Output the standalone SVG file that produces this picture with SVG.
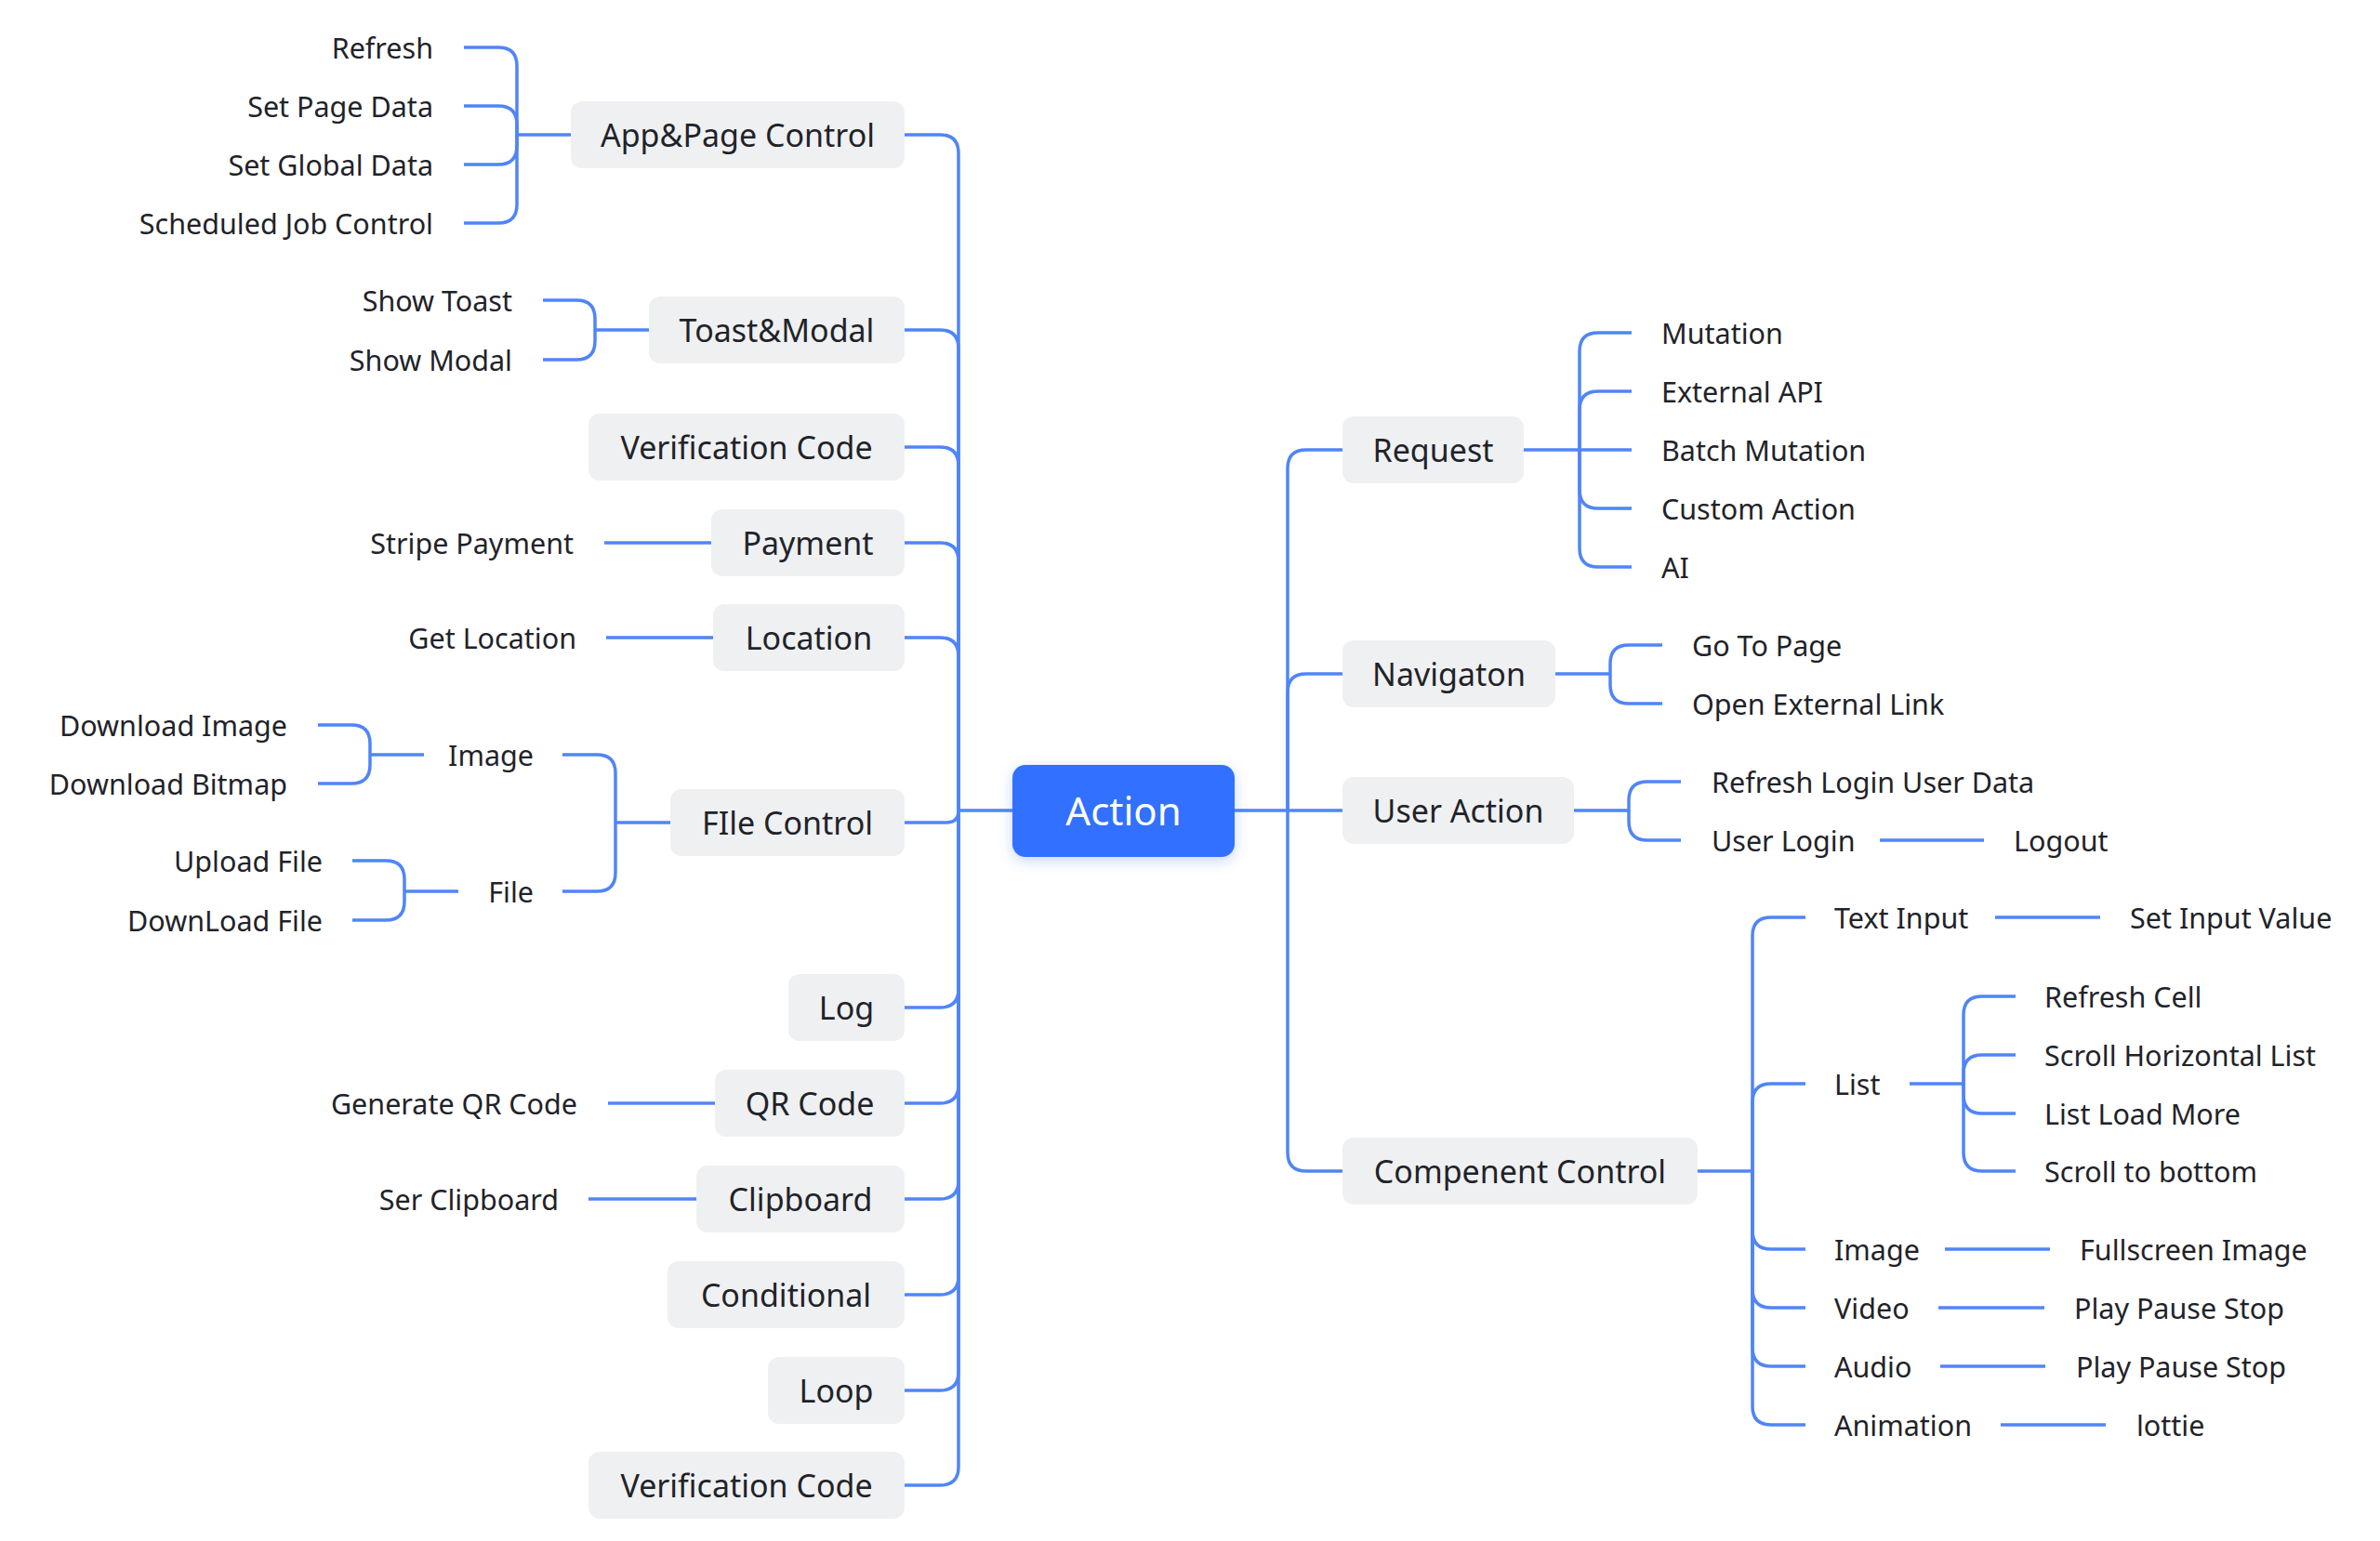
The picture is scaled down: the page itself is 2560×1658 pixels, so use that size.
<svg xmlns="http://www.w3.org/2000/svg" width="2560" height="1658" viewBox="0 0 2560 1658">
<defs>
<style>
.c{fill:none;stroke:#5085F8;stroke-width:3.5;stroke-linecap:butt}
.box{fill:#EFF0F2}
.bt{font-family:"Noto Sans","Liberation Sans",sans-serif;font-size:34px;fill:#1F2329;text-anchor:middle}
.lf{font-family:"Noto Sans","Liberation Sans",sans-serif;font-size:30.5px;fill:#1F2329}
.l{text-anchor:end}
.r{text-anchor:start}
.root{font-family:"Noto Sans","Liberation Sans",sans-serif;font-size:42px;fill:#FFFFFF;text-anchor:middle}
</style>
<filter id="sh" x="-20%" y="-30%" width="140%" height="160%">
<feDropShadow dx="0" dy="4" stdDeviation="7" flood-color="#3370FF" flood-opacity="0.28"/>
</filter>
</defs>
<rect width="2560" height="1658" fill="#FFFFFF"/>
<g id="connectors">
<path class="c" d="M1031 872 H1089"/>
<path class="c" d="M1031 872 V165 Q1031 145 1011 145 H973"/>
<path class="c" d="M1031 872 V375 Q1031 355 1011 355 H973"/>
<path class="c" d="M1031 872 V501 Q1031 481 1011 481 H973"/>
<path class="c" d="M1031 872 V604 Q1031 584 1011 584 H973"/>
<path class="c" d="M1031 872 V706 Q1031 686 1011 686 H973"/>
<path class="c" d="M1031 872 Q1031 885 1018 885 H973"/>
<path class="c" d="M1031 872 V1064 Q1031 1084 1011 1084 H973"/>
<path class="c" d="M1031 872 V1167 Q1031 1187 1011 1187 H973"/>
<path class="c" d="M1031 872 V1270 Q1031 1290 1011 1290 H973"/>
<path class="c" d="M1031 872 V1373 Q1031 1393 1011 1393 H973"/>
<path class="c" d="M1031 872 V1476 Q1031 1496 1011 1496 H973"/>
<path class="c" d="M1031 872 V1578 Q1031 1598 1011 1598 H973"/>
<path class="c" d="M1328 872 H1444"/>
<path class="c" d="M1385 872 V504 Q1385 484 1405 484 H1444"/>
<path class="c" d="M1385 872 V745 Q1385 725 1405 725 H1444"/>
<path class="c" d="M1385 872 V1240 Q1385 1260 1405 1260 H1444"/>
<path class="c" d="M556 145 H614"/>
<path class="c" d="M556 145 V71 Q556 51 536 51 H499"/>
<path class="c" d="M556 145 V134 Q556 114 536 114 H499"/>
<path class="c" d="M556 145 V157 Q556 177 536 177 H499"/>
<path class="c" d="M556 145 V220 Q556 240 536 240 H499"/>
<path class="c" d="M640 355 H698"/>
<path class="c" d="M640 355 V343 Q640 323 620 323 H584"/>
<path class="c" d="M640 355 V367 Q640 387 620 387 H584"/>
<path class="c" d="M650 584 H765"/>
<path class="c" d="M652 686 H767"/>
<path class="c" d="M662 885 H721"/>
<path class="c" d="M662 885 V832 Q662 812 642 812 H605"/>
<path class="c" d="M662 885 V939 Q662 959 642 959 H605"/>
<path class="c" d="M398 812 H456"/>
<path class="c" d="M398 812 V800 Q398 780 378 780 H342"/>
<path class="c" d="M398 812 V823 Q398 843 378 843 H342"/>
<path class="c" d="M435 959 H493"/>
<path class="c" d="M435 959 V946 Q435 926 415 926 H379"/>
<path class="c" d="M435 959 V970 Q435 990 415 990 H379"/>
<path class="c" d="M654 1187 H769"/>
<path class="c" d="M633 1290 H749"/>
<path class="c" d="M1639 484 H1755"/>
<path class="c" d="M1699 484 V378 Q1699 358 1719 358 H1755"/>
<path class="c" d="M1699 484 V441 Q1699 421 1719 421 H1755"/>
<path class="c" d="M1699 484 V527 Q1699 547 1719 547 H1755"/>
<path class="c" d="M1699 484 V590 Q1699 610 1719 610 H1755"/>
<path class="c" d="M1673 725 H1732"/>
<path class="c" d="M1732 725 V714 Q1732 694 1752 694 H1788"/>
<path class="c" d="M1732 725 V737 Q1732 757 1752 757 H1788"/>
<path class="c" d="M1693 872 H1752"/>
<path class="c" d="M1752 872 V861 Q1752 841 1772 841 H1808"/>
<path class="c" d="M1752 872 V884 Q1752 904 1772 904 H1808"/>
<path class="c" d="M2022 904 H2134"/>
<path class="c" d="M1826 1260 H1885"/>
<path class="c" d="M1885 1260 V1007 Q1885 987 1905 987 H1942"/>
<path class="c" d="M1885 1260 V1186 Q1885 1166 1905 1166 H1942"/>
<path class="c" d="M1885 1260 V1324 Q1885 1344 1905 1344 H1942"/>
<path class="c" d="M1885 1260 V1387 Q1885 1407 1905 1407 H1942"/>
<path class="c" d="M1885 1260 V1450 Q1885 1470 1905 1470 H1942"/>
<path class="c" d="M1885 1260 V1513 Q1885 1533 1905 1533 H1942"/>
<path class="c" d="M2146 987 H2259"/>
<path class="c" d="M2092 1344 H2205"/>
<path class="c" d="M2085 1407 H2199"/>
<path class="c" d="M2087 1470 H2200"/>
<path class="c" d="M2152 1533 H2265"/>
<path class="c" d="M2054 1166 H2112"/>
<path class="c" d="M2112 1166 V1092 Q2112 1072 2132 1072 H2168"/>
<path class="c" d="M2112 1166 V1155 Q2112 1135 2132 1135 H2168"/>
<path class="c" d="M2112 1166 V1178 Q2112 1198 2132 1198 H2168"/>
<path class="c" d="M2112 1166 V1240 Q2112 1260 2132 1260 H2168"/>
</g>

<g id="action"><rect x="1089" y="823" width="239" height="99" rx="14" fill="#3370FF" filter="url(#sh)"/><text class="root" x="1208.5" y="888">Action</text></g>

<g id="app-page-control"><rect class="box" x="614" y="109" width="359" height="72" rx="12"/><text class="bt" x="793.5" y="158">App&amp;Page Control</text></g>
<g id="toast-modal"><rect class="box" x="698" y="319" width="275" height="72" rx="12"/><text class="bt" x="835.5" y="368">Toast&amp;Modal</text></g>
<g id="verification-code-1"><rect class="box" x="633" y="445" width="340" height="72" rx="12"/><text class="bt" x="803" y="494">Verification Code</text></g>
<g id="payment"><rect class="box" x="765" y="548" width="208" height="72" rx="12"/><text class="bt" x="869" y="597">Payment</text></g>
<g id="location"><rect class="box" x="767" y="650" width="206" height="72" rx="12"/><text class="bt" x="870" y="699">Location</text></g>
<g id="file-control"><rect class="box" x="721" y="849" width="252" height="72" rx="12"/><text class="bt" x="847" y="898">FIle Control</text></g>
<g id="log"><rect class="box" x="848" y="1048" width="125" height="72" rx="12"/><text class="bt" x="910.5" y="1097">Log</text></g>
<g id="qr-code"><rect class="box" x="769" y="1151" width="204" height="72" rx="12"/><text class="bt" x="871" y="1200">QR Code</text></g>
<g id="clipboard"><rect class="box" x="749" y="1254" width="224" height="72" rx="12"/><text class="bt" x="861" y="1303">Clipboard</text></g>
<g id="conditional"><rect class="box" x="718" y="1357" width="255" height="72" rx="12"/><text class="bt" x="845.5" y="1406">Conditional</text></g>
<g id="loop"><rect class="box" x="826" y="1460" width="147" height="72" rx="12"/><text class="bt" x="899.5" y="1509">Loop</text></g>
<g id="verification-code-2"><rect class="box" x="633" y="1562" width="340" height="72" rx="12"/><text class="bt" x="803" y="1611">Verification Code</text></g>

<g id="request"><rect class="box" x="1444" y="448" width="195" height="72" rx="12"/><text class="bt" x="1541.5" y="497">Request</text></g>
<g id="navigaton"><rect class="box" x="1444" y="689" width="229" height="72" rx="12"/><text class="bt" x="1558.5" y="738">Navigaton</text></g>
<g id="user-action"><rect class="box" x="1444" y="836" width="249" height="72" rx="12"/><text class="bt" x="1568.5" y="885">User Action</text></g>
<g id="compenent-control"><rect class="box" x="1444" y="1224" width="382" height="72" rx="12"/><text class="bt" x="1635" y="1273">Compenent Control</text></g>

<g id="refresh"><text class="lf l" x="466" y="63">Refresh</text></g>
<g id="set-page-data"><text class="lf l" x="466" y="126">Set Page Data</text></g>
<g id="set-global-data"><text class="lf l" x="466" y="189">Set Global Data</text></g>
<g id="scheduled-job-control"><text class="lf l" x="466" y="252">Scheduled Job Control</text></g>
<g id="show-toast"><text class="lf l" x="551" y="335">Show Toast</text></g>
<g id="show-modal"><text class="lf l" x="551" y="399">Show Modal</text></g>
<g id="stripe-payment"><text class="lf l" x="617" y="596">Stripe Payment</text></g>
<g id="get-location"><text class="lf l" x="620" y="698">Get Location</text></g>
<g id="file-image"><text class="lf l" x="574" y="824">Image</text></g>
<g id="file-file"><text class="lf l" x="574" y="971">File</text></g>
<g id="download-image"><text class="lf l" x="309" y="792">Download Image</text></g>
<g id="download-bitmap"><text class="lf l" x="309" y="855">Download Bitmap</text></g>
<g id="upload-file"><text class="lf l" x="347" y="938">Upload File</text></g>
<g id="download-file"><text class="lf l" x="347" y="1002">DownLoad File</text></g>
<g id="generate-qr-code"><text class="lf l" x="621" y="1199">Generate QR Code</text></g>
<g id="ser-clipboard"><text class="lf l" x="601" y="1302">Ser Clipboard</text></g>

<g id="mutation"><text class="lf r" x="1787" y="370">Mutation</text></g>
<g id="external-api"><text class="lf r" x="1787" y="433">External API</text></g>
<g id="batch-mutation"><text class="lf r" x="1787" y="496">Batch Mutation</text></g>
<g id="custom-action"><text class="lf r" x="1787" y="559">Custom Action</text></g>
<g id="ai"><text class="lf r" x="1787" y="622">AI</text></g>
<g id="go-to-page"><text class="lf r" x="1820" y="706">Go To Page</text></g>
<g id="open-external-link"><text class="lf r" x="1820" y="769">Open External Link</text></g>
<g id="refresh-login-user-data"><text class="lf r" x="1841" y="853">Refresh Login User Data</text></g>
<g id="user-login"><text class="lf r" x="1841" y="916">User Login</text></g>
<g id="logout"><text class="lf r" x="2166" y="916">Logout</text></g>
<g id="text-input"><text class="lf r" x="1973" y="999">Text Input</text></g>
<g id="set-input-value"><text class="lf r" x="2291" y="999">Set Input Value</text></g>
<g id="list"><text class="lf r" x="1973" y="1178">List</text></g>
<g id="refresh-cell"><text class="lf r" x="2199" y="1084">Refresh Cell</text></g>
<g id="scroll-horizontal-list"><text class="lf r" x="2199" y="1147">Scroll Horizontal List</text></g>
<g id="list-load-more"><text class="lf r" x="2199" y="1210">List Load More</text></g>
<g id="scroll-to-bottom"><text class="lf r" x="2199" y="1272">Scroll to bottom</text></g>
<g id="cc-image"><text class="lf r" x="1973" y="1356">Image</text></g>
<g id="fullscreen-image"><text class="lf r" x="2237" y="1356">Fullscreen Image</text></g>
<g id="video"><text class="lf r" x="1973" y="1419">Video</text></g>
<g id="video-play"><text class="lf r" x="2231" y="1419">Play Pause Stop</text></g>
<g id="audio"><text class="lf r" x="1973" y="1482">Audio</text></g>
<g id="audio-play"><text class="lf r" x="2233" y="1482">Play Pause Stop</text></g>
<g id="animation"><text class="lf r" x="1973" y="1545">Animation</text></g>
<g id="lottie"><text class="lf r" x="2298" y="1545">lottie</text></g>
</svg>
